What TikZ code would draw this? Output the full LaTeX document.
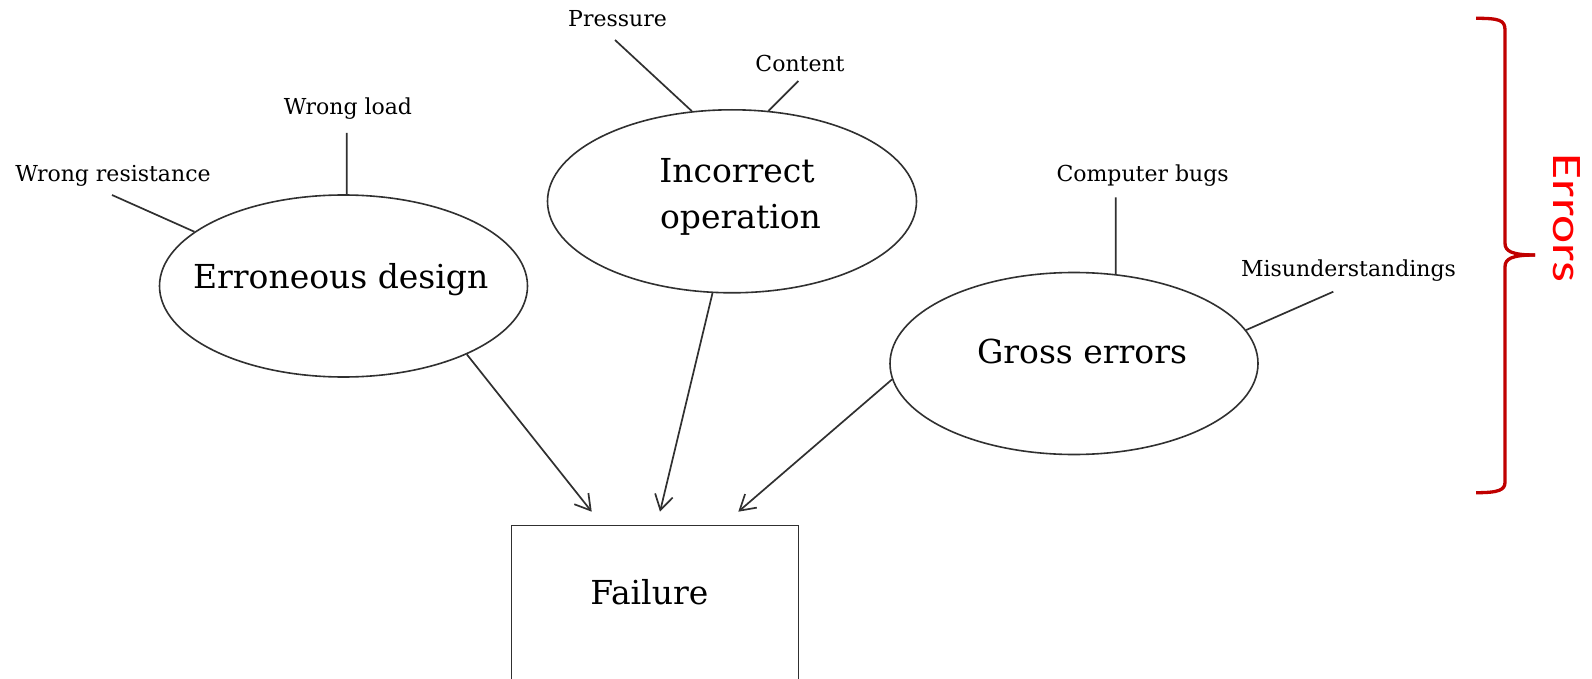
\documentclass[tikz,border=0pt]{standalone}
\usepackage{fontspec}
\setmainfont{DejaVu Serif}
\newfontfamily\errfont{Carlito}
\usetikzlibrary{arrows.meta,shapes.geometric}
\definecolor{linegray}{HTML}{303030}
\definecolor{bracered}{HTML}{C00000}
\definecolor{errred}{HTML}{FF0000}
\begin{document}
\begin{tikzpicture}[x=1pt,y=-1pt,
  bubble/.style={draw=linegray, line width=1.6pt, ellipse, minimum width=368pt, minimum height=182pt, inner sep=0pt},
  big/.style={font=\fontsize{33}{46}\selectfont, anchor=base, inner sep=0pt, text=black},
  small/.style={font=\fontsize{22}{26}\selectfont, anchor=base, inner sep=0pt, text=black},
  link/.style={draw=linegray, line width=1.7pt},
  arr/.style={link, -{Straight Barb[length=15pt,width=18pt]}},
  box/.style={draw=linegray, line width=1.9pt, minimum width=287pt, minimum height=200pt, inner sep=0pt},
  brace/.style={draw=bracered, line width=3.3pt},
  errlabel/.style={rotate=-90, text=errred, font=\errfont\fontsize{42}{42}\selectfont, inner sep=0pt}
]
\useasboundingbox (0,0) rectangle (1592,679);
\clip (0,0) rectangle (1592,679);
\fill[white] (0,0) rectangle (1592,679);

% ellipses
\node[bubble] (ed) at (343.5,286) {};
\node[bubble, minimum width=369pt, minimum height=183pt] (io) at (732,201.3) {};
\node[bubble] (ge) at (1074,363.5) {};

% main texts
\node[big] (edt) at (340.7,288) {Erroneous design};
\node[big] (iot1) at (737,182.7) {Incorrect};
\node[big] (iot2) at (740.5,229) {operation};
\node[big] (get) at (1082,363.3) {Gross errors};

% failure box
\node[box] (fail) at (655,625.5) {};
\node[big] (failt) at (649.3,604) {Failure};

% small labels
\node[small] (lwr) at (113,181.5) {Wrong resistance};
\node[small] (lwl) at (348,115) {Wrong load};
\node[small] (lpr) at (617.5,26.7) {Pressure};
\node[small] (lct) at (800,71.7) {Content};
\node[small] (lcb) at (1142.6,181.6) {Computer bugs};
\node[small] (lmu) at (1348.5,276) {Misunderstandings};

% label connectors
\coordinate (wr) at (112,195);
\coordinate (wl) at (346.7,133);
\coordinate (pr) at (615,40);
\coordinate (ct) at (798.3,81);
\coordinate (cb) at (1115.7,197.4);
\coordinate (mu) at (1333.3,291.7);
\draw[link] (wr) -- (ed.160.7);
\draw[link] (wl) -- (ed.88);
\draw[link] (pr) -- (io.114.4);
\draw[link] (ct) -- (io.68.1);
\draw[link] (cb) -- (ge.65.2);
\draw[link] (mu) -- (ge.11.4);

% arrows to failure
\coordinate (t1) at (591.7,511.7);
\coordinate (t2) at (660,511.7);
\coordinate (t3) at (738.3,511.7);
\draw[arr] (ed.-29.7) -- (t1);
\draw[arr] (io.-102.5) -- (t2);
\draw[arr] (ge.-175.9) -- (t3);

% brace
\draw[brace] (1476,18.3) .. controls (1499,18.3) and (1505,20) .. (1505,30)
  -- (1505,243) .. controls (1505,251) and (1511,255) .. (1535,255);
\draw[brace] (1535,255) .. controls (1511,255) and (1505,259) .. (1505,267)
  -- (1505,482) .. controls (1505,490) and (1499,492.7) .. (1476,492.7);
\node[errlabel] (err) at (1567,218) {\scalebox{1.27}[1]{Errors}};
\end{tikzpicture}
\end{document}
